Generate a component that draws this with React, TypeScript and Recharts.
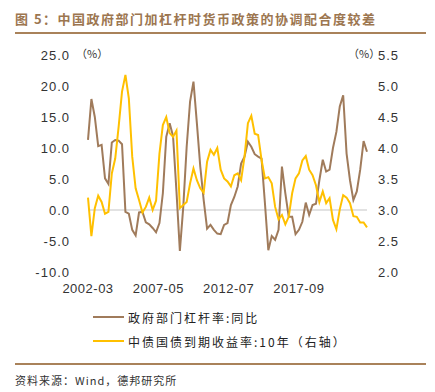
import React from 'react';
import { LineChart, Line, XAxis, YAxis, ReferenceLine } from 'recharts';

// quarterly points starting 2002-03
const START_YEAR = 2002;
const START_MONTH = 3;

// 政府部门杠杆率:同比 (%)
const govLeverageYoY = [
  11.3, 17.9, 15.0, 10.3, 10.5, 5.1, 4.2, 10.9, 11.3, 11.2,
  10.6, -0.3, -0.6, -3.2, -4.1, -0.4, -0.3, -2.0, -2.3, -2.9,
  -3.6, -2.1, 2.7, 11.8, 14.0, 11.9, 3.0, -6.6, 0.5, 10.2,
  17.5, 20.7, 14.0, 7.0, 1.6, -3.0, -2.4, -3.2, -3.8, -3.9,
  -2.4, -2.1, 0.8, 2.1, 3.8, 7.5, 8.6, 11.0, 10.2, 9.0,
  8.6, 8.3, 1.1, -6.5, -4.2, -4.8, -3.2, 7.0, 2.7, -1.1,
  -1.1, -3.9, -3.2, -1.9, 1.2, -0.8, 0.8, 1.0, 4.8, 8.1,
  6.2, 6.5, 10.0, 12.6, 16.7, 18.5, 9.1, 4.8, 1.6, 3.0,
  6.5, 11.1, 9.4,
];

// 中债国债到期收益率:10年 (%, right axis)
const cgb10y = [
  3.2, 2.58, 3.03, 3.23, 3.13, 2.94, 2.97, 3.59, 3.83, 4.34,
  4.91, 5.18, 4.8, 3.86, 3.35, 3.16, 2.96, 3.05, 3.2, 3.0,
  3.15, 3.91, 4.37, 4.5, 4.24, 4.18, 4.28, 3.03, 3.08, 3.13,
  3.43, 3.67, 3.48, 3.35, 3.28, 3.78, 3.97, 3.89, 4.0, 3.65,
  3.51, 3.46, 3.38, 3.56, 3.59, 3.48, 3.86, 4.4, 4.52, 4.23,
  4.21, 3.81, 3.51, 3.53, 3.43, 3.05, 2.85, 2.92, 2.77, 2.89,
  3.27, 3.51, 3.59, 3.8, 3.87, 3.65, 3.56, 3.4, 3.13, 3.3,
  3.11, 3.19, 2.84, 2.69, 3.01, 3.24, 3.2, 3.11, 2.9, 2.89,
  2.8, 2.8, 2.72,
];

const xTickLabels = ['2002-03', '2007-05', '2012-07', '2017-09'];
const leftTicks = [-10, -5, 0, 5, 10, 15, 20, 25];
const rightTicks = [2, 2.5, 3, 3.5, 4, 4.5, 5, 5.5];

const monthOffset = (label: string) => {
  const [y, m] = label.split('-').map(Number);
  return (y - START_YEAR) * 12 + (m - START_MONTH);
};

const data = govLeverageYoY.map((v, i) => {
  const total = START_MONTH - 1 + i * 3;
  const year = START_YEAR + Math.floor(total / 12);
  const month = (total % 12) + 1;
  return {
    date: `${year}-${String(month).padStart(2, '0')}`,
    m: i * 3,
    lev: v,
    yld: cgb10y[i],
  };
});

const xTicks = xTickLabels.map(monthOffset);
const lastMonth = (govLeverageYoY.length - 1) * 3;

const BROWN = '#a07b5b';
const YELLOW = '#ffc000';
const RULE = '#a9825a';
const cjk = '"Noto Sans CJK SC", "Noto Sans", sans-serif';
const num = '"Liberation Sans", Arial, sans-serif';

const tickStyle = { fontSize: 13, fill: '#333', fontFamily: num, letterSpacing: 1 };

export default function App() {
  return (
    <div
      style={{
        position: 'absolute',
        left: 0,
        top: 0,
        width: 435,
        height: 392,
        background: '#fff',
        overflow: 'hidden',
      }}
    >
      {/* Title */}
      <div
        style={{
          position: 'absolute',
          left: 15,
          top: 9,
          fontFamily: cjk,
          fontSize: 13,
          fontWeight: 700,
          letterSpacing: 1.5,
          color: '#9c7650',
          whiteSpace: 'nowrap',
        }}
      >
        图 5：中国政府部门加杠杆时货币政策的协调配合度较差
      </div>
      <div style={{ position: 'absolute', left: 15, top: 32, width: 411, height: 2, background: RULE }} />

      {/* unit labels */}
      <div style={{ position: 'absolute', left: 76, top: 45, fontFamily: cjk, fontSize: 11, color: '#333' }}>（%）</div>
      <div style={{ position: 'absolute', left: 348, top: 45, fontFamily: cjk, fontSize: 11, color: '#333' }}>（%）</div>

      {/* Chart */}
      <div style={{ position: 'absolute', left: 0, top: 0 }}>
        <LineChart width={435} height={297} data={data} margin={{ top: 55, right: 0, left: 0, bottom: 0 }}>
          <XAxis
            dataKey="m"
            type="number"
            domain={[0, lastMonth]}
            ticks={xTicks}
            interval={0}
            tickFormatter={(v: number) => xTickLabels[xTicks.indexOf(v)] ?? ''}
            axisLine={false}
            tickLine={false}
            tickSize={0}
            tickMargin={12}
            height={25}
            tick={{ ...tickStyle, letterSpacing: 0.5 }}
          />
          <YAxis
            yAxisId="left"
            orientation="left"
            domain={[-10, 25]}
            ticks={leftTicks}
            interval={0}
            tickFormatter={(v: number) => v.toFixed(1)}
            axisLine={false}
            tickLine={false}
            tickSize={0}
            tickMargin={18}
            width={88}
            tick={tickStyle}
          />
          <YAxis
            yAxisId="right"
            orientation="right"
            domain={[2, 5.5]}
            ticks={rightTicks}
            interval={0}
            tickFormatter={(v: number) => v.toFixed(1)}
            axisLine={false}
            tickLine={false}
            tickSize={0}
            tickMargin={11}
            width={68}
            tick={tickStyle}
          />
          <ReferenceLine yAxisId="left" y={0} stroke="#d9d9d9" strokeWidth={1.5} />
          <Line
            yAxisId="left"
            type="linear"
            dataKey="lev"
            stroke={BROWN}
            strokeWidth={2}
            dot={false}
            isAnimationActive={false}
          />
          <Line
            yAxisId="right"
            type="linear"
            dataKey="yld"
            stroke={YELLOW}
            strokeWidth={2}
            dot={false}
            isAnimationActive={false}
          />
        </LineChart>
      </div>

      {/* Legend */}
      <div style={{ position: 'absolute', left: 93, top: 307, fontFamily: cjk, fontSize: 12, color: '#222' }}>
        <div style={{ display: 'flex', alignItems: 'center', height: 20 }}>
          <span style={{ display: 'inline-block', width: 31, height: 2, background: BROWN, marginRight: 4 }} />
          <span style={{ letterSpacing: 2 }}>政府部门杠杆率:同比</span>
        </div>
        <div style={{ display: 'flex', alignItems: 'center', height: 20, marginTop: 4 }}>
          <span style={{ display: 'inline-block', width: 31, height: 2, background: YELLOW, marginRight: 4 }} />
          <span style={{ letterSpacing: 2 }}>中债国债到期收益率:10年（右轴）</span>
        </div>
      </div>

      {/* Source */}
      <div style={{ position: 'absolute', left: 15, top: 363, width: 411, height: 2, background: RULE }} />
      <div
        style={{
          position: 'absolute',
          left: 15,
          top: 372,
          fontFamily: cjk,
          fontSize: 11,
          letterSpacing: 1,
          color: '#333',
          whiteSpace: 'nowrap',
        }}
      >
        资料来源：Wind，德邦研究所
      </div>
    </div>
  );
}
